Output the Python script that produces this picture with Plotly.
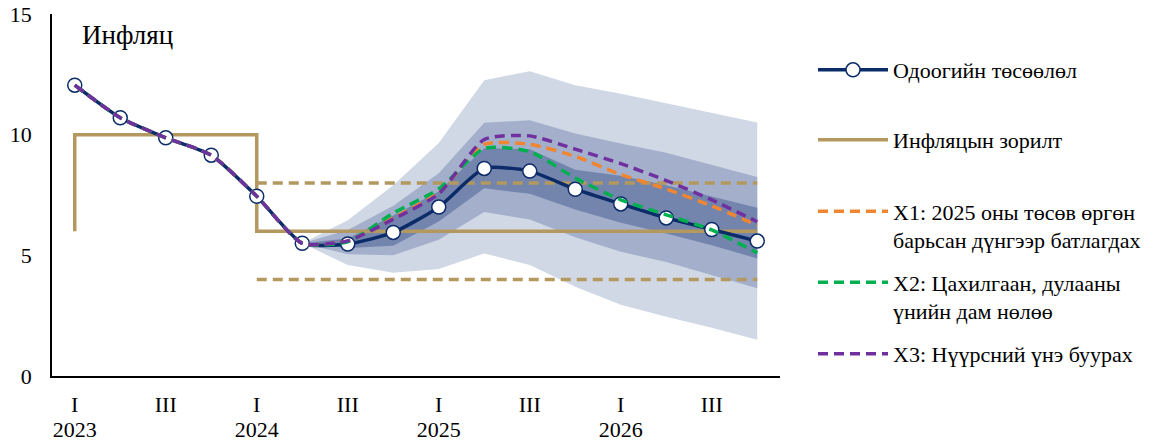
import plotly.graph_objects as go

# ---------------- data ----------------
quarters = ["2023 I", "2023 II", "2023 III", "2023 IV",
            "2024 I", "2024 II", "2024 III", "2024 IV",
            "2025 I", "2025 II", "2025 III", "2025 IV",
            "2026 I", "2026 II", "2026 III", "2026 IV"]
quarter_ticks = ["I", "III", "I", "III", "I", "III", "I", "III"]
year_ticks = ["2023", "2024", "2025", "2026"]

current = [12.05, 10.7, 9.87, 9.15, 7.45, 5.5, 5.47, 5.95,
           7.0, 8.6, 8.49, 7.74, 7.13, 6.55, 6.07, 5.59]
x1_budget = [12.05, 10.7, 9.87, 9.15, 7.45, 5.5, 5.6, 6.55,
             7.6, 9.6, 9.6, 9.1, 8.35, 7.75, 7.05, 6.25]
x2_energy = [12.05, 10.7, 9.87, 9.15, 7.45, 5.5, 5.56, 6.75,
             7.75, 9.43, 9.3, 8.2, 7.3, 6.68, 6.05, 5.1]
x3_coal = [12.05, 10.7, 9.87, 9.15, 7.45, 5.5, 5.6, 6.5,
           7.55, 9.8, 9.95, 9.4, 8.8, 8.1, 7.3, 6.39]

# fan chart (from 2024 II onwards)
fan_start = 5
outer_upper = [5.5, 6.45, 7.9, 9.65, 12.26, 12.63, 12.05, 11.7, 11.3, 10.9, 10.5]
mid_upper = [5.5, 6.05, 7.05, 8.4, 10.49, 10.6, 10.05, 9.63, 9.25, 8.75, 8.25]
inner_upper = [5.5, 5.7, 6.65, 7.65, 9.44, 9.4, 8.55, 8.3, 7.9, 7.43, 6.97]
inner_lower = [5.5, 5.3, 5.4, 6.4, 7.78, 7.55, 6.9, 6.35, 5.9, 5.42, 4.87]
mid_lower = [5.5, 5.05, 5.0, 5.65, 6.8, 6.48, 5.75, 5.15, 4.72, 4.18, 3.64]
outer_lower = [5.5, 4.6, 4.28, 4.43, 5.08, 4.6, 3.7, 2.95, 2.45, 2.0, 1.5]

# inflation target (step line) and tolerance band
target_idx = [0, 0, 4, 4, 15]
target_val = [6, 10, 10, 6, 6]
band_idx = [4, 15]
band_upper = [8, 8]
band_lower = [4, 4]

names = ["Одоогийн төсөөлөл", "Инфляцын зорилт",
         "Х1: 2025 оны төсөв өргөн<br>барьсан дүнгээр батлагдах",
         "Х2: Цахилгаан, дулааны<br>үнийн дам нөлөө",
         "Х3: Нүүрсний үнэ буурах"]

# ---------------- styles ----------------
FONT = "Liberation Serif"
NAVY = "#0B2B69"
TAN = "#B3985F"
ORANGE = "#F08532"
GREEN = "#00B050"
PURPLE = "#7030A0"
LIGHT = "#D0D8E5"
MID = "#A4B0CB"
DARK = "#7384AD"

PAGE = 8  # browser body margin

x_idx = list(range(len(quarters)))
fan_x = x_idx[fan_start:]

fig = go.Figure()

# base layer (x / y): fan bands and target lines
for lo, hi, col in [(outer_lower, outer_upper, LIGHT),
                    (mid_lower, mid_upper, MID),
                    (inner_lower, inner_upper, DARK)]:
    fig.add_trace(go.Scatter(x=fan_x, y=lo, mode="lines", line=dict(width=0, color=col),
                             showlegend=False, hoverinfo="skip"))
    fig.add_trace(go.Scatter(x=fan_x, y=hi, mode="lines", line=dict(width=0, color=col),
                             fill="tonexty", fillcolor=col, showlegend=False, hoverinfo="skip"))

for yy in (band_upper, band_lower):
    fig.add_trace(go.Scatter(x=band_idx, y=yy, mode="lines",
                             line=dict(color=TAN, width=3.5, dash="10px,6px"),
                             showlegend=False, hoverinfo="skip"))

fig.add_trace(go.Scatter(x=target_idx, y=target_val, mode="lines", name=names[1],
                         line=dict(color=TAN, width=3.5), legend="legend2"))

# top layer (x2 / y, same scale): forecast and scenarios
fig.add_trace(go.Scatter(x=x_idx, y=current, mode="lines+markers", name=names[0],
                         xaxis="x2",
                         line=dict(color=NAVY, width=3.5, shape="spline", smoothing=0.6),
                         marker=dict(symbol="circle", size=14, color="white",
                                     line=dict(color=NAVY, width=1.5)),
                         legend="legend"))

for i, (ser, col) in enumerate([(x1_budget, ORANGE), (x2_energy, GREEN), (x3_coal, PURPLE)]):
    fig.add_trace(go.Scatter(x=x_idx, y=ser, mode="lines", name=names[2 + i],
                             xaxis="x2",
                             line=dict(color=col, width=3.5, dash="10px,6px",
                                       shape="spline", smoothing=0.6),
                             legend="legend%d" % (3 + i)))

fig.add_annotation(text="Инфляц", xref="paper", yref="paper", x=0.038, y=0.941,
                   xanchor="left", yanchor="middle", showarrow=False,
                   font=dict(family=FONT, size=27, color="black"))

# legend placement (pixel rows of the reference legend symbols)
plot_l, plot_w, plot_b, plot_h = 52 - PAGE, 728, 376 - PAGE, 362
leg_left_px = 813 - PAGE
leg_rows = [70, 140, 226, 297, 354]
leg_common = dict(xanchor="left", yanchor="middle", valign="top", itemwidth=70,
                  font=dict(family=FONT, size=22, color="black"),
                  bgcolor="rgba(0,0,0,0)")
legends = {}
for k, row in enumerate(leg_rows):
    key = "legend" if k == 0 else "legend%d" % (k + 1)
    legends[key] = dict(x=(leg_left_px - plot_l) / plot_w,
                        y=(plot_b - (row - PAGE)) / plot_h, **leg_common)

tick_font = dict(family=FONT, size=22, color="black")

fig.update_layout(
    width=1161 - PAGE, height=444 - PAGE,
    margin=dict(l=plot_l, r=1161 - PAGE - plot_l - plot_w, t=14 - PAGE,
                b=444 - PAGE - plot_b, autoexpand=False),
    plot_bgcolor="white", paper_bgcolor="white",
    font=dict(family=FONT, size=22, color="black"),
    showlegend=True,
    xaxis=dict(range=[-0.5, 15.5], tickmode="array", tickvals=x_idx[::2], ticktext=quarter_ticks,
               showline=True, linecolor="black", linewidth=1.5, showgrid=False, zeroline=False,
               ticks="outside", ticklen=8, tickcolor="rgba(0,0,0,0)", automargin=False,
               tickfont=tick_font),
    xaxis2=dict(range=[-0.5, 15.5], overlaying="x", side="bottom", anchor="y",
                tickmode="array", tickvals=x_idx[::4], ticktext=year_ticks,
                showline=False, showgrid=False, zeroline=False,
                ticks="outside", ticklen=34, tickcolor="rgba(0,0,0,0)", automargin=False,
                tickfont=tick_font),
    yaxis=dict(range=[0, 15], tickvals=[0, 5, 10, 15],
               showline=True, linecolor="black", linewidth=1.5, showgrid=False, zeroline=False,
               ticks="outside", ticklen=14, tickcolor="rgba(0,0,0,0)", automargin=False,
               ticklabeloverflow="allow", tickfont=tick_font),
    **legends,
)

fig.write_html("out.html")
